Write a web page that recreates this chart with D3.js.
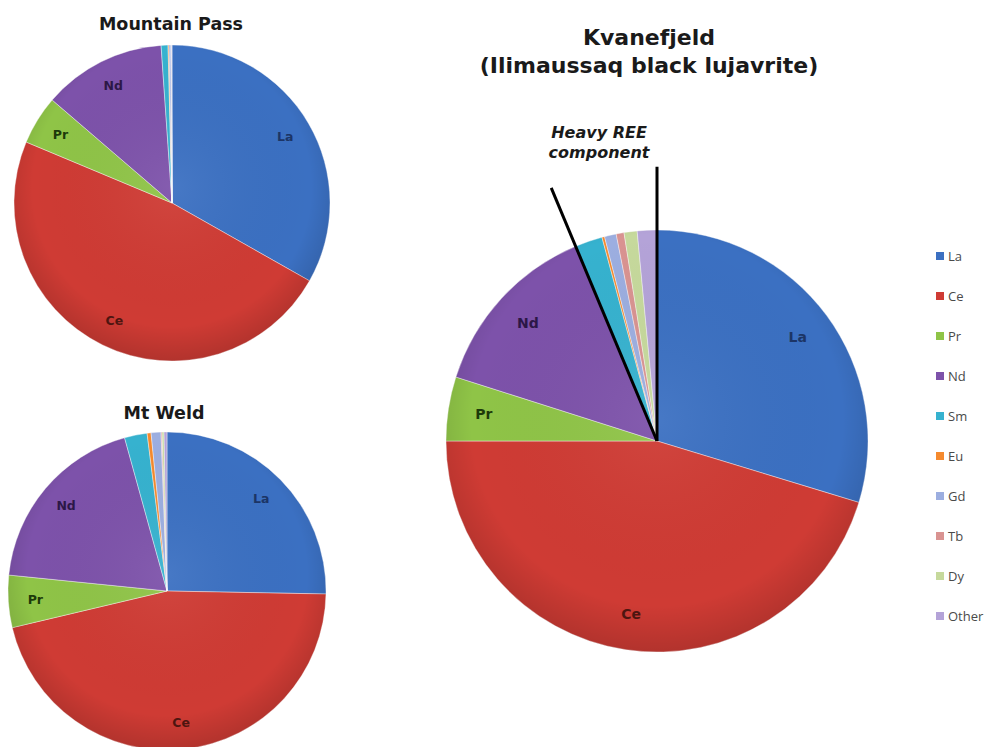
<!DOCTYPE html>
<html>
<head>
<meta charset="utf-8">
<script src="https://cdn.jsdelivr.net/npm/d3@7"></script>
<style>
    body { margin: 0; background: #fff; }
    svg { display: block; }
</style>
</head>
<body>
<div id="chart"></div>
<script>
// REE distribution (% of total REO)
const elements = ['La', 'Ce', 'Pr', 'Nd', 'Sm', 'Eu', 'Gd', 'Tb', 'Dy', 'Other']
const mountainPass = [33.2, 48.1, 5.0, 12.6, 0.7, 0.1, 0.2, 0.02, 0.03, 0.05]
const mtWeld = [25.3, 46.0, 5.3, 19.1, 2.3, 0.4, 1.0, 0.1, 0.2, 0.3]
const kvanefjeld = [29.7, 45.3, 4.9, 13.8, 2.1, 0.2, 0.9, 0.6, 1.0, 1.5]
const labelled = ['La', 'Ce', 'Pr', 'Nd']
const heavyREE = ['Sm', 'Eu', 'Gd', 'Tb', 'Dy', 'Other']

const sliceColors = ['#3b70c2', '#cf3b34', '#8fc447', '#7d52aa', '#36b2cf', '#f58a2e', '#9caee0', '#d99391', '#c6d99c', '#b4a3d8']
const labelColors = ['#1c3566', '#4e1510', '#1d3a0a', '#2c1747']

function drawCharts() {
    const config = {
        width: 1003,
        height: 747,
        font: '"DejaVu Sans", Arial, sans-serif',
        pies: [
            { name: 'Mountain Pass', values: mountainPass, cx: 172, cy: 203, r: 158, title: ['Mountain Pass'], titleY: 30, titleX: 171, titleSize: 17.5, labelSize: 12.5 },
            { name: 'Mt Weld', values: mtWeld, cx: 167, cy: 591, r: 159, title: ['Mt Weld'], titleY: 419, titleX: 164, titleSize: 17.5, labelSize: 12.5 },
            { name: 'Kvanefjeld', values: kvanefjeld, cx: 657, cy: 441, r: 211, title: ['Kvanefjeld', '(Ilimaussaq black lujavrite)'], titleY: 45, titleX: 649, titleSize: 22, labelSize: 14 },
        ],
        legend: { x: 936, y: 252, step: 40, box: 8 },
    }

    const color = d3.scaleOrdinal().domain(elements).range(sliceColors)
    const labelColor = d3.scaleOrdinal().domain(labelled).range(labelColors)

    const svg = d3
        .select('#chart')
        .append('svg')
        .attr('width', config.width)
        .attr('height', config.height)
        .attr('viewBox', `0 0 ${config.width} ${config.height}`)

    // soft Excel-like shading on the discs
    const defs = svg.append('defs')
    const shade = defs.append('radialGradient')
        .attr('id', 'shade')
        .attr('cx', '50%').attr('cy', '45%').attr('r', '55%')
    shade.append('stop').attr('offset', '0%').attr('stop-color', '#fff').attr('stop-opacity', 0.06)
    shade.append('stop').attr('offset', '80%').attr('stop-color', '#000').attr('stop-opacity', 0.0)
    shade.append('stop').attr('offset', '100%').attr('stop-color', '#000').attr('stop-opacity', 0.14)

    const pie = d3.pie()
        .sort(null)
        .value(d => d.value)

    config.pies.forEach(p => {
        const rows = elements.map((el, i) => ({ element: el, value: p.values[i] }))
        const arcs = pie(rows)

        const g = svg.append('g')
            .attr('transform', `translate(${p.cx}, ${p.cy})`)

        const arc = d3.arc().innerRadius(0).outerRadius(p.r)
        const labelArc = d3.arc().innerRadius(p.r * 0.83).outerRadius(p.r * 0.83)

        g.selectAll('path.slice')
            .data(arcs)
            .enter()
            .append('path')
            .attr('class', 'slice')
            .attr('d', arc)
            .attr('fill', d => color(d.data.element))
            .attr('stroke', '#ffffff')
            .attr('stroke-opacity', 0.4)
            .attr('stroke-width', 1)

        g.append('circle')
            .attr('r', p.r)
            .attr('fill', 'url(#shade)')
            .attr('pointer-events', 'none')

        g.selectAll('text.lbl')
            .data(arcs.filter(d => labelled.includes(d.data.element)))
            .enter()
            .append('text')
            .attr('class', 'lbl')
            .attr('transform', d => `translate(${labelArc.centroid(d)})`)
            .attr('text-anchor', 'middle')
            .attr('dy', '0.35em')
            .attr('font-family', config.font)
            .attr('font-weight', 'bold')
            .attr('font-size', p.labelSize + 'px')
            .attr('fill', d => labelColor(d.data.element))
            .text(d => d.data.element)

        svg.append('text')
            .attr('x', p.titleX)
            .attr('y', p.titleY)
            .attr('text-anchor', 'middle')
            .attr('font-family', config.font)
            .attr('font-weight', 'bold')
            .attr('font-size', p.titleSize + 'px')
            .attr('fill', '#1a1a1a')
            .selectAll('tspan')
            .data(p.title)
            .enter()
            .append('tspan')
            .attr('x', p.titleX)
            .attr('dy', (d, i) => i === 0 ? 0 : 28)
            .text(d => d)

        // heavy REE wedge callout on the big pie
        if (p.name === 'Kvanefjeld') {
            const heavy = arcs.filter(d => heavyREE.includes(d.data.element))
            const a0 = d3.min(heavy, d => d.startAngle)
            const a1 = d3.max(heavy, d => d.endAngle)
            const len = p.r * 1.3
            g.selectAll('line.callout')
                .data([a0, a1])
                .enter()
                .append('line')
                .attr('class', 'callout')
                .attr('x1', 0).attr('y1', 0)
                .attr('x2', a => len * Math.sin(a))
                .attr('y2', a => -len * Math.cos(a))
                .attr('stroke', '#000')
                .attr('stroke-width', 3)

            svg.append('text')
                .attr('x', 599)
                .attr('y', 138)
                .attr('text-anchor', 'middle')
                .attr('font-family', config.font)
                .attr('font-weight', 'bold')
                .attr('font-style', 'italic')
                .attr('font-size', '16px')
                .attr('fill', '#1a1a1a')
                .selectAll('tspan')
                .data(['Heavy REE', 'component'])
                .enter()
                .append('tspan')
                .attr('x', 599)
                .attr('dy', (d, i) => i === 0 ? 0 : 20)
                .text(d => d)
        }
    })

    // legend
    const legend = svg.append('g')
        .attr('transform', `translate(${config.legend.x}, ${config.legend.y})`)

    const items = legend.selectAll('g.item')
        .data(elements)
        .enter()
        .append('g')
        .attr('class', 'item')
        .attr('transform', (d, i) => `translate(0, ${i * config.legend.step})`)

    items.append('rect')
        .attr('width', config.legend.box)
        .attr('height', config.legend.box)
        .attr('fill', d => color(d))

    items.append('text')
        .attr('x', 12)
        .attr('y', config.legend.box / 2)
        .attr('dy', '0.35em')
        .attr('font-family', '"Open Sans", "Liberation Sans", sans-serif')
        .attr('font-size', '13px')
        .attr('fill', '#4a4a4a')
        .text(d => d)
}

drawCharts()
</script>
</body>
</html>
